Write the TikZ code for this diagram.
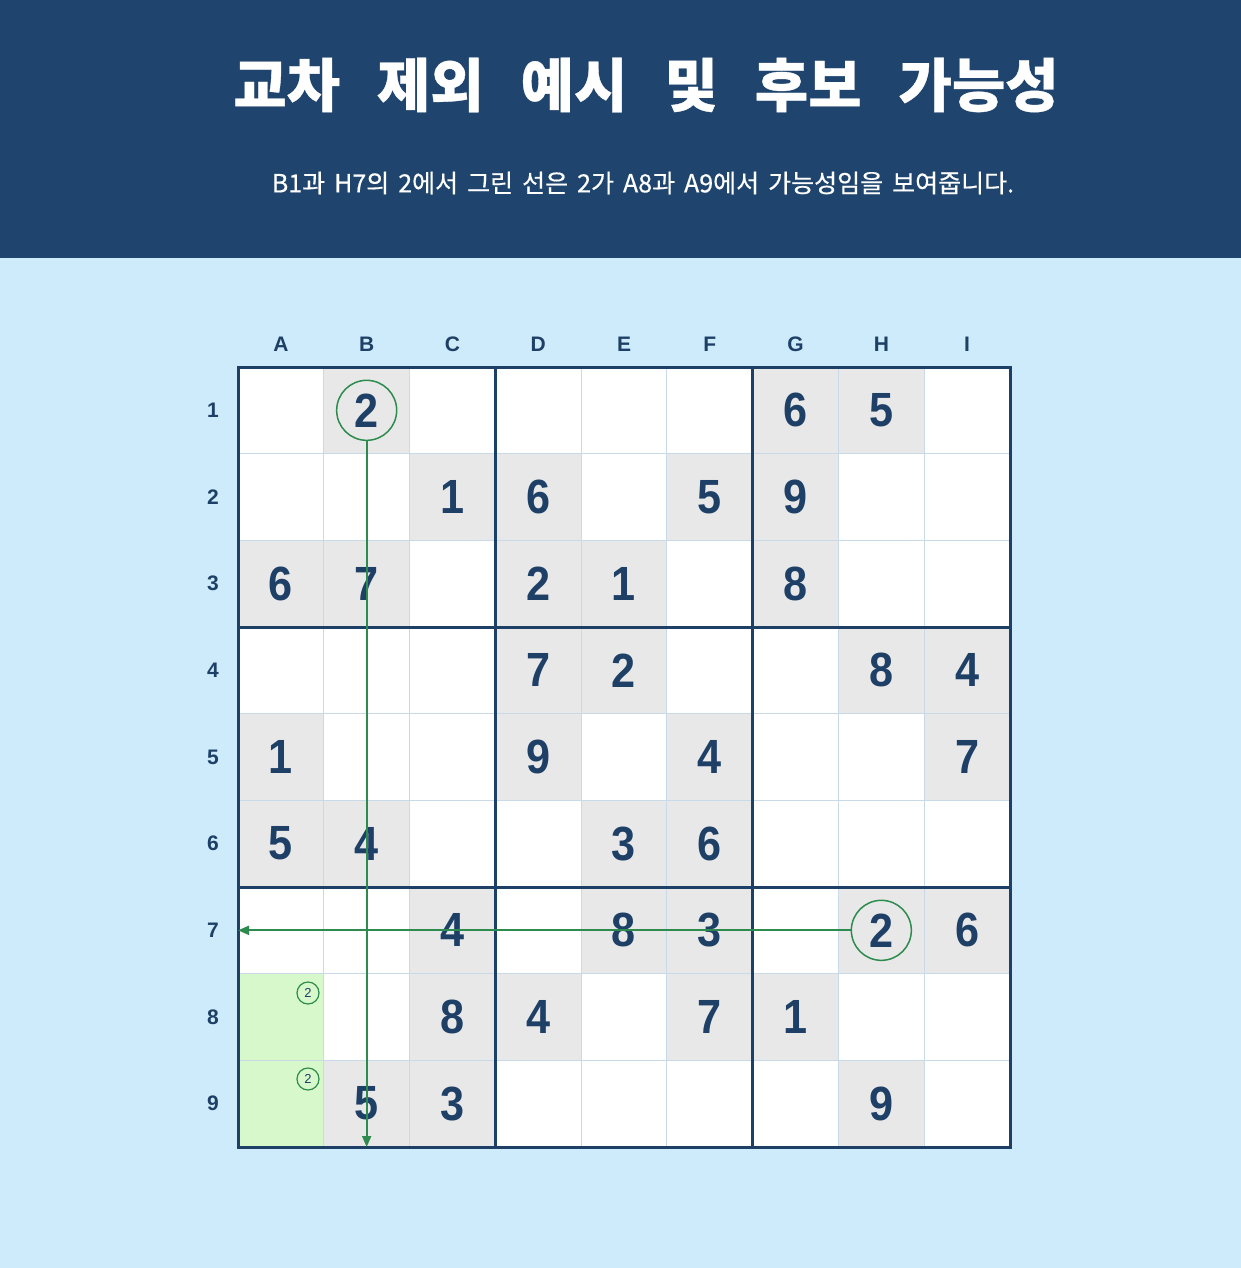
\documentclass[tikz,border=0pt]{standalone}
\usepackage{fontspec}
\setmainfont{Liberation Sans}
\newfontfamily\kr{Noto Sans CJK KR}
\newfontfamily\krtitle[BoldFeatures={FakeBold=0.6}]{Noto Sans CJK KR}
\newfontfamily\krsub[FakeBold=0.5]{Noto Sans CJK KR}
\newfontfamily\digitfont[FakeStretch=0.9]{Liberation Sans}
\usetikzlibrary{arrows.meta}
\definecolor{hdr}{HTML}{1F456E}
\definecolor{bgblue}{HTML}{CDEBFB}
\definecolor{navy}{HTML}{1E3F66}
\definecolor{cellgray}{HTML}{E8E8E8}
\definecolor{cellgreen}{HTML}{D7F8CB}
\definecolor{gridthin}{HTML}{C8DAE8}
\definecolor{linegreen}{HTML}{2E8B4E}
\newcommand{\tgap}{\hspace{37pt}}
\newcommand{\sgap}{\hspace{9pt}}
\begin{document}
\begin{tikzpicture}[x=1pt,y=-1pt,
  titletext/.style={text=white,inner sep=0pt,font=\krtitle\bfseries\fontsize{58}{64}\selectfont},
  subtext/.style={text=white,inner sep=0pt,font=\krsub\fontsize{25}{30}\selectfont},
  digit/.style={text=navy,inner sep=0pt,font=\digitfont\bfseries\fontsize{48}{50}\selectfont},
  axislabel/.style={text=navy,inner sep=0pt,font=\bfseries\fontsize{21}{24}\selectfont},
  thinline/.style={draw=gridthin,line width=1pt},
  thickline/.style={draw=navy,line width=3pt},
  bigcirc/.style={circle,draw=linegreen,line width=1.5pt,minimum size=60pt,inner sep=0pt},
  smallcirc/.style={circle,draw=linegreen,line width=1.2pt,minimum size=22pt,inner sep=0pt,text=navy,font=\fontsize{13}{13}\selectfont},
  arr/.style={draw=linegreen,line width=2pt,-{Triangle[length=11pt,width=9pt]}}
]
\useasboundingbox (0,0) rectangle (1241,1268);
\fill[bgblue] (0,0) rectangle (1241,1268);
\fill[hdr] (0,0) rectangle (1241,258);
\node[titletext] (title) at (646,85) {교차\tgap 제외\tgap 예시\tgap 및\tgap 후보\tgap 가능성};
\node[subtext] (sub) at (643,183) {B1과\sgap H7의\sgap 2에서\sgap 그린\sgap 선은\sgap 2가\sgap A8과\sgap A9에서\sgap 가능성임을\sgap 보여줍니다.};
% grid background
\fill[white] (238,367) rectangle (1010,1147);
\def\cw{85.778}
\def\ch{86.667}
\foreach \c/\r/\d in {1/0/2,6/0/6,7/0/5,
  2/1/1,3/1/6,5/1/5,6/1/9,
  0/2/6,1/2/7,3/2/2,4/2/1,6/2/8,
  3/3/7,4/3/2,7/3/8,8/3/4,
  0/4/1,3/4/9,5/4/4,8/4/7,
  0/5/5,1/5/4,4/5/3,5/5/6,
  2/6/4,4/6/8,5/6/3,7/6/2,8/6/6,
  2/7/8,3/7/4,5/7/7,6/7/1,
  1/8/5,2/8/3,7/8/9}{
  \fill[cellgray] ({238+\c*\cw},{367+\r*\ch}) rectangle ++(\cw,\ch);
}
\fill[cellgreen] (238,{367+7*\ch}) rectangle ++(\cw,{2*\ch});
% thin lines
\foreach \i in {1,2,4,5,7,8}{
  \draw[thinline] ({238+\i*\cw},367) -- ({238+\i*\cw},1147);
  \draw[thinline] (238,{367+\i*\ch}) -- (1010,{367+\i*\ch});
}
% thick lines
\foreach \i in {3,6}{
  \draw[thickline] ({238+\i*\cw},367) -- ({238+\i*\cw},1147);
  \draw[thickline] (238,{367+\i*\ch}) -- (1010,{367+\i*\ch});
}
\draw[thickline] (238,367) rectangle (1010,1147);
% labels
\foreach \l [count=\k from 0] in {A,B,C,D,E,F,G,H,I}{
  \node[axislabel] (col\l) at ({238+(\k+0.5)*\cw},344) {\l};
}
\foreach \k in {1,...,9}{
  \node[axislabel] (row\k) at (213,{367+(\k-0.5)*\ch}) {\k};
}
% digits
\foreach \c/\r/\d in {1/0/2,6/0/6,7/0/5,
  2/1/1,3/1/6,5/1/5,6/1/9,
  0/2/6,1/2/7,3/2/2,4/2/1,6/2/8,
  3/3/7,4/3/2,7/3/8,8/3/4,
  0/4/1,3/4/9,5/4/4,8/4/7,
  0/5/5,1/5/4,4/5/3,5/5/6,
  2/6/4,4/6/8,5/6/3,7/6/2,8/6/6,
  2/7/8,3/7/4,5/7/7,6/7/1,
  1/8/5,2/8/3,7/8/9}{
  \node[digit] (d\c\r) at ({238+(\c+0.5)*\cw},{367+(\r+0.5)*\ch}) {\d};
}
% circles
\node[bigcirc] (cB1) at (d10) {};
\node[bigcirc] (cH7) at (d76) {};
\node[smallcirc] (sA8) at (308,993) {2};
\node[smallcirc] (sA9) at (308,1079) {2};
% arrows
\coordinate (vEnd) at ({238+1.5*\cw},1147);
\coordinate (hEnd) at (238,{367+6.5*\ch});
\draw[arr] (cB1.south) -- (vEnd);
\draw[arr] (cH7.west) -- (hEnd);
\end{tikzpicture}
\end{document}
